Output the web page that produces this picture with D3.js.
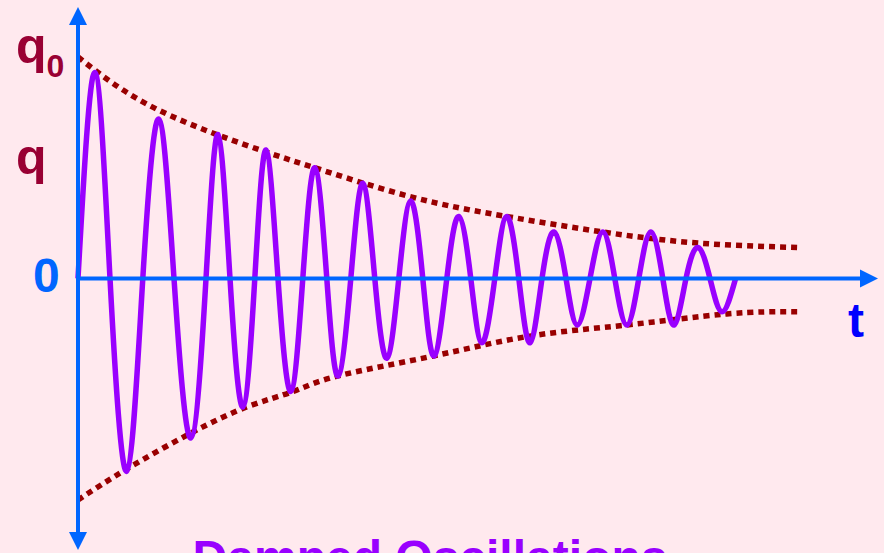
<!DOCTYPE html>
<html lang="en">
<head>
  <meta charset="UTF-8">
  <title>Damped Oscillations</title>
  <script src="https://d3js.org/d3.v7.min.js"></script>
  <style>
    body { margin: 0; background: #ffe9ee; }
    svg { display: block; }
    .wave { fill: none; stroke: #9900ff; stroke-width: 5.5; }
    .envelope { fill: none; stroke: #990000; stroke-width: 5.5; stroke-dasharray: 6 5; }
    .axis { stroke: #0066ff; stroke-width: 4; }
    .lbl { font-family: "Liberation Sans", Arial, sans-serif; font-weight: bold; }
  </style>
</head>
<body>
<script>
  // charge q against time t (extrema and zero crossings)
  const waveT = [0, 2.1, 4.0, 6.1, 8.1, 10.1, 12.0, 14.1, 16.0, 17.5, 19.0, 20.6, 22.1, 23.5,
                 25.0, 26.6, 28.1, 29.6, 31.1, 32.5, 34.1, 35.6, 37.1, 38.6, 40.1, 41.6, 43.1,
                 44.5, 46.1, 47.6, 49.1, 50.5, 52.1, 53.6, 55.1, 56.5, 58.0, 59.5, 61.0, 62.4,
                 64.0, 65.6, 67.1, 68.6, 70.1, 71.6, 73.1, 74.5, 76.0, 77.5, 79.0, 80.5, 82.2];
  const waveQ = [0, 0.93, 0, -0.87, 0, 0.72, 0, -0.72, 0, 0.65, 0, -0.58, 0, 0.58,
                 0, -0.51, 0, 0.50, 0, -0.44, 0, 0.43, 0, -0.36, 0, 0.35, 0,
                 -0.35, 0, 0.28, 0, -0.29, 0, 0.28, 0, -0.29, 0, 0.21, 0, -0.21,
                 0, 0.21, 0, -0.21, 0, 0.21, 0, -0.21, 0, 0.14, 0, -0.15, 0.0];

  // dotted envelope curves
  const upperT = [0, 10.1, 23.6, 29.6, 41.5, 53.6, 65.6, 77.5, 90];
  const upperQ = [1.0, 0.76, 0.57, 0.50, 0.37, 0.28, 0.21, 0.16, 0.14];
  const lowerT = [0, 6.1, 14.0, 21.1, 26.9, 32.5, 44.4, 56.5, 68.6, 81.1, 90];
  const lowerQ = [-1.0, -0.86, -0.70, -0.58, -0.51, -0.44, -0.35, -0.26, -0.21, -0.16, -0.15];

  // axis labels
  const yLabels = [{text: 'q', sub: '0', q: 1.0}, {text: 'q', sub: '', q: 0.5}];
  const zeroLabel = '0';
  const xLabel = 't';
  const title = 'Damped Oscillations';

  const W = 884, H = 553;
  const x = d3.scaleLinear().domain([0, 100]).range([78, 878]);
  const y = d3.scaleLinear().domain([-1, 1]).range([500, 57]);

  const svg = d3.select('body').append('svg')
    .attr('width', W).attr('height', H);

  svg.append('rect').attr('width', W).attr('height', H).attr('fill', '#ffe9ee');

  const line = d3.line()
    .x(d => x(d[0]))
    .y(d => y(d[1]))
    .curve(d3.curveNatural);

  svg.append('path').attr('class', 'envelope')
    .datum(d3.zip(upperT, upperQ)).attr('d', line);
  svg.append('path').attr('class', 'envelope')
    .datum(d3.zip(lowerT, lowerQ)).attr('d', line);

  svg.append('path').attr('class', 'wave')
    .datum(d3.zip(waveT, waveQ)).attr('d', line);

  // axes with arrowheads
  const x0 = x(0), y0 = y(0);
  const aw = 9, al = 18;
  svg.append('line').attr('class', 'axis')
    .attr('x1', x0).attr('x2', x0).attr('y1', 7 + al).attr('y2', 550 - al);
  svg.append('line').attr('class', 'axis')
    .attr('x1', x0 - 2).attr('x2', 878 - al).attr('y1', y0).attr('y2', y0);
  const arrows = [
    [[x0, 7], [x0 - aw, 7 + al], [x0 + aw, 7 + al]],
    [[x0, 550], [x0 - aw, 550 - al], [x0 + aw, 550 - al]],
    [[878, y0], [878 - al, y0 - aw], [878 - al, y0 + aw]]
  ];
  svg.selectAll('.arrow').data(arrows).enter().append('path')
    .attr('class', 'arrow')
    .attr('fill', '#0066ff')
    .attr('d', d => 'M' + d.join('L') + 'Z');

  // labels
  yLabels.forEach((l, i) => {
    const t = svg.append('text').attr('class', 'lbl')
      .attr('x', 16).attr('y', i === 0 ? 63 : 174)
      .attr('fill', '#990033').attr('font-size', 50)
      .text(l.text);
    if (l.sub) {
      t.append('tspan').attr('font-size', 32).attr('dy', 14).text(l.sub);
    }
  });

  svg.append('text').attr('class', 'lbl')
    .attr('x', 33).attr('y', 292)
    .attr('fill', '#0066ff').attr('font-size', 48)
    .text(zeroLabel);

  svg.append('text').attr('class', 'lbl')
    .attr('x', 848).attr('y', 337)
    .attr('fill', '#0000ff').attr('font-size', 48)
    .text(xLabel);

  svg.append('text').attr('class', 'lbl')
    .attr('x', 430).attr('y', 574)
    .attr('text-anchor', 'middle')
    .attr('fill', '#9900ff').attr('font-size', 48)
    .text(title);
</script>
</body>
</html>
